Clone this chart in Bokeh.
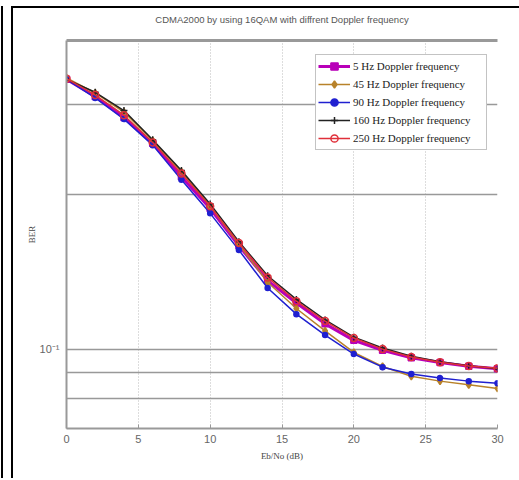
from bokeh.plotting import figure
from bokeh.models import FixedTicker, Legend, LegendItem, LinearAxis
from bokeh.embed import file_html
from bokeh.resources import INLINE

ebno = [0, 2, 4, 6, 8, 10, 12, 14, 16, 18, 20, 22, 24, 26, 28, 30]

ber_5hz = [0.336, 0.311, 0.283, 0.252, 0.217, 0.188, 0.159, 0.136, 0.123, 0.112,
           0.104, 0.0995, 0.0962, 0.0942, 0.0926, 0.0916]
ber_45hz = [0.338, 0.316, 0.290, 0.255, 0.222, 0.190, 0.160, 0.135, 0.120, 0.1085,
            0.0985, 0.0925, 0.0885, 0.0866, 0.0852, 0.0838]
ber_90hz = [0.336, 0.309, 0.281, 0.250, 0.214, 0.184, 0.156, 0.1316, 0.117, 0.1065,
            0.0978, 0.0922, 0.0894, 0.0878, 0.0866, 0.0858]
ber_160hz = [0.336, 0.317, 0.292, 0.256, 0.223, 0.192, 0.162, 0.139, 0.125, 0.114,
             0.1055, 0.1005, 0.0968, 0.0945, 0.0928, 0.0916]
ber_250hz = [0.337, 0.313, 0.286, 0.253, 0.220, 0.190, 0.161, 0.138, 0.124, 0.1134,
             0.1051, 0.1000, 0.0965, 0.0943, 0.0927, 0.0918]

labels = ["5 Hz Doppler frequency", "45 Hz Doppler frequency", "90 Hz Doppler frequency",
          "160 Hz Doppler frequency", "250 Hz Doppler frequency"]
title_text = "CDMA2000 by using 16QAM with diffrent Doppler frequency"
x_ticks = [0, 5, 10, 15, 20, 25, 30]
y_major = [0.1]
y_minor = [0.08, 0.09, 0.2, 0.3]

p = figure(width=530, height=472, x_range=(0, 30), y_range=(0.07, 0.4),
           y_axis_type="log", output_backend="svg", toolbar_location=None,
           min_border_left=53, min_border_right=46, min_border_top=32, min_border_bottom=52)
p.styles = {"margin-left": "11px", "margin-top": "6px",
            "border-left": "2px solid black", "border-top": "2px solid black",
            "outline": "none",
            "box-shadow": "-8px 0 0 0 white, -10px 0 0 0 black",
            "clip-path": "polygon(-20px -10px, calc(100% - 12px) -10px, "
                         "calc(100% - 12px) calc(100% + 10px), -20px calc(100% + 10px))"}
p.outline_line_color = None
p.background_fill_color = "white"
p.border_fill_color = "white"

# axes
p.xaxis.ticker = FixedTicker(ticks=x_ticks, minor_ticks=[])
p.yaxis.ticker = FixedTicker(ticks=y_major, minor_ticks=y_minor + [0.4])
p.yaxis.major_label_overrides = {0.1: "10\u207b\u00b9"}
for ax in (p.xaxis[0], p.yaxis[0]):
    ax.axis_line_color = "#999999"
    ax.axis_line_width = 2
    ax.major_tick_in = 4
    ax.major_tick_out = 0
    ax.major_tick_line_color = "#999999"
    ax.minor_tick_in = 0
    ax.minor_tick_out = 0
    ax.major_label_text_font = "Liberation Sans"
    ax.major_label_text_font_size = "11px"
    ax.major_label_text_color = "#666666"
    ax.axis_label_text_font = "Liberation Serif"
    ax.axis_label_text_font_size = "9px"
    ax.axis_label_text_font_style = "normal"
    ax.axis_label_text_color = "#444444"
p.xaxis.axis_label = "Eb/No (dB)"
p.yaxis.axis_label = "BER"
p.xaxis.major_label_standoff = 6
p.xaxis.axis_label_standoff = 5
p.yaxis.major_label_standoff = 7
p.yaxis.axis_label_standoff = 0

# top border line of the axes box, carrying the chart title
top_axis = LinearAxis(major_tick_line_color=None, minor_tick_line_color=None,
                      major_label_text_font_size="0px", axis_line_color="#999999",
                      axis_line_width=3, major_label_standoff=0,
                      axis_label=title_text, axis_label_standoff=16,
                      axis_label_text_font="Liberation Sans",
                      axis_label_text_font_size="9.5px",
                      axis_label_text_font_style="normal",
                      axis_label_text_color="#555555")
top_axis.ticker = FixedTicker(ticks=[])
p.add_layout(top_axis, "above")

# grids
p.xgrid.ticker = FixedTicker(ticks=x_ticks)
p.xgrid.grid_line_color = "#bbbbbb"
p.xgrid.grid_line_dash = "1 2"
p.xgrid.grid_line_width = 1
p.ygrid.grid_line_color = "#999999"
p.ygrid.grid_line_width = 1.5
p.ygrid.minor_grid_line_color = "#999999"
p.ygrid.minor_grid_line_width = 1.5

series = [
    (ber_5hz, "#b800b8", 3.0, "square", 6, "#b800b8"),
    (ber_45hz, "#b8822a", 1.5, "diamond", 7, "#b8822a"),
    (ber_90hz, "#2020d0", 1.5, "circle", 5, "#2020d0"),
    (ber_160hz, "#222222", 1.5, "cross", 7, None),
    (ber_250hz, "#e0303a", 1.5, "circle", 7, None),
]

items = []
for (vals, col, lw, mk, ms, fill), lab in zip(series, labels):
    r1 = p.line(ebno, vals, line_color=col, line_width=lw)
    r2 = p.scatter(ebno, vals, marker=mk, size=ms, line_color=col,
                   fill_color=fill if fill else "white", fill_alpha=1.0 if fill else 0.0,
                   line_width=1.5)
    items.append(LegendItem(label=lab, renderers=[r1, r2]))

legend = Legend(items=items, location=(249, 278))
legend.label_text_font = "Liberation Serif"
legend.label_text_font_size = "11px"
legend.label_text_color = "#222222"
legend.glyph_width = 32
legend.glyph_height = 18
legend.label_height = 18
legend.label_width = 131
legend.label_standoff = 3
legend.spacing = 0
legend.padding = 2
legend.margin = 0
legend.border_line_color = "#888888"
legend.border_line_width = 1.5
legend.background_fill_alpha = 1.0
p.add_layout(legend, "center")

open("out.html", "w").write(file_html(p, INLINE))
